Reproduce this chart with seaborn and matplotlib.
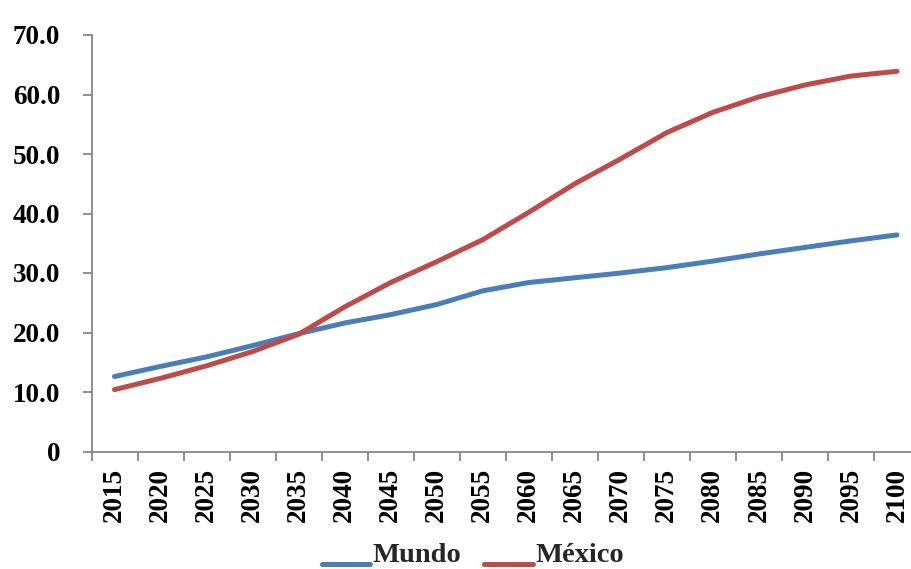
import numpy as np
import pandas as pd
import matplotlib
matplotlib.use("Agg")
import matplotlib.pyplot as plt
from matplotlib.legend_handler import HandlerLine2D
import seaborn as sns

years = ["2015", "2020", "2025", "2030", "2035", "2040", "2045", "2050", "2055",
         "2060", "2065", "2070", "2075", "2080", "2085", "2090", "2095", "2100"]
mundo = [12.6, 14.3, 15.9, 17.8, 19.8, 21.6, 23.0, 24.7, 27.0,
         28.4, 29.2, 30.0, 30.9, 32.0, 33.2, 34.3, 35.4, 36.4]
mexico = [10.4, 12.3, 14.4, 16.8, 19.7, 24.3, 28.4, 31.9, 35.6,
          40.2, 45.0, 49.2, 53.6, 57.0, 59.6, 61.6, 63.1, 63.9]
y_ticks = [0, 10, 20, 30, 40, 50, 60, 70]
y_labels = ["0", "10.0", "20.0", "30.0", "40.0", "50.0", "60.0", "70.0"]

series_names = ["Mundo", "México"]
colors = {"Mundo": "#4A7EBB", "México": "#BE4B48"}

df = pd.DataFrame({
    "pos": list(range(len(years))) * 2,
    "valor": mundo + mexico,
    "serie": [series_names[0]] * len(years) + [series_names[1]] * len(years),
})

sns.set_theme(style="white")
plt.rcParams["font.family"] = ["Liberation Serif", "DejaVu Serif"]
plt.rcParams["font.weight"] = "bold"

fig = plt.figure(figsize=(9.11, 5.69), dpi=100)
W, H = 911, 569
x0, x1 = 91.5, 920
y_top, y_bot = 35, 451.5
ax = fig.add_axes([x0 / W, (H - y_bot) / H, (x1 - x0) / W, (y_bot - y_top) / H])

sns.lineplot(data=df, x="pos", y="valor", hue="serie", palette=colors,
             linewidth=3.6, ax=ax, legend=False, solid_capstyle="round")

ax.set_xlim(-0.5, len(years) - 0.5)
ax.set_ylim(0, 70)
ax.set_xlabel("")
ax.set_ylabel("")

spine_color = "#868686"
for side in ["top", "right"]:
    ax.spines[side].set_visible(False)
for side in ["left", "bottom"]:
    ax.spines[side].set_color(spine_color)
    ax.spines[side].set_linewidth(1.3)

ax.set_yticks(y_ticks)
ax.set_yticklabels(y_labels)
ax.tick_params(axis="y", which="major", direction="out", length=6.5, width=1.3,
               color=spine_color, pad=16, labelsize=19.5, left=True)

# category labels centred, tick marks on category boundaries
ax.set_xticks(np.arange(len(years)))
ax.set_xticklabels(years, rotation=90)
ax.set_xticks(np.arange(len(years) + 1) - 0.5, minor=True)
ax.tick_params(axis="x", which="major", length=0, pad=12, labelsize=19.5)
ax.tick_params(axis="x", which="minor", direction="out", length=6.5, width=1.3,
               color=spine_color, bottom=True)
for lab in ax.get_xticklabels() + ax.get_yticklabels():
    lab.set_fontweight("bold")
    lab.set_color("black")


class BaselineHandler(HandlerLine2D):
    """Legend line sitting near the text baseline."""
    def create_artists(self, legend, orig_handle, xdescent, ydescent,
                       width, height, fontsize, trans):
        artists = super().create_artists(legend, orig_handle, xdescent, ydescent,
                                         width, height, fontsize, trans)
        for a in artists:
            yd = a.get_ydata()
            a.set_ydata(np.asarray(yd) - height * 0.6)
        return artists


handles = [plt.Line2D([0], [0], color=colors[n], lw=3.6, solid_capstyle="round")
           for n in series_names]
leg = fig.legend(handles, series_names, loc="center",
                 bbox_to_anchor=(473 / W, (H - 555) / H), ncol=2, frameon=False,
                 prop={"family": "Liberation Serif", "weight": "bold", "size": 20.5},
                 handlelength=1.7, handletextpad=0.1, columnspacing=0.8,
                 handler_map={plt.Line2D: BaselineHandler()})

fig.savefig("out.png", dpi=100)
